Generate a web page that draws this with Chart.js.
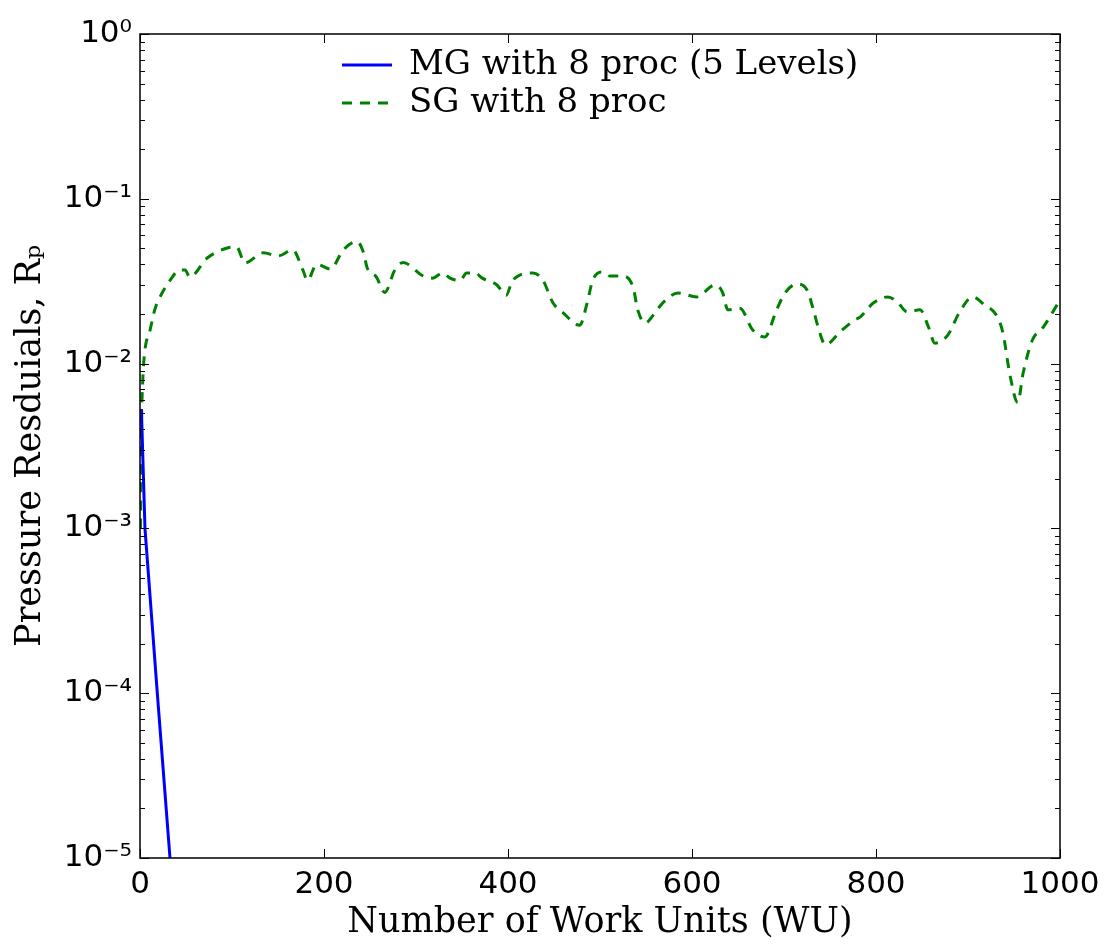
<!DOCTYPE html>
<html>
<head>
<meta charset="utf-8">
<script src="https://cdn.jsdelivr.net/npm/chart.js@4/dist/chart.umd.min.js"></script>
<style>
  html, body { margin: 0; padding: 0; background: #fff; }
  #wrap { width: 1113px; height: 946px; position: relative; }
</style>
</head>
<body>
<div id="wrap"><canvas id="myChart" width="1113" height="946"></canvas></div>
<script>
// multigrid run, 8 procs
const mgWU = [1.5, 5.4, 18.8, 32.6, 40];
const mgRes = [5.3e-3, 1e-3, 1e-4, 1e-5, 1.6e-6];

// single grid run, 8 procs
const sgWU = [0.5, 1.5, 3, 5, 11, 16, 24, 33, 43, 49, 54, 73, 95, 105, 114, 134, 150, 166, 177, 182,
  192, 207, 221, 236, 243, 247, 257, 266, 277, 286, 308, 318, 329, 337, 348, 355, 364, 372, 388, 398,
  405, 427, 438, 449, 460, 478, 486, 492, 502, 511, 524, 536, 541, 549, 558, 568, 585, 605, 625, 633,
  639, 652, 666, 679, 692, 701, 714, 725, 732, 737, 745, 761, 777, 783, 797, 813, 823, 834, 848, 857,
  864, 878, 891, 905, 918, 932, 938, 946, 954, 960, 970, 982, 998];
const sgRes = [0.001, 0.004, 0.0079, 0.0116, 0.016, 0.0212, 0.0268, 0.0322, 0.037, 0.037, 0.0335, 0.0437, 0.0503, 0.051, 0.0408, 0.047, 0.045, 0.049, 0.037, 0.032,
  0.040, 0.0375, 0.049, 0.055, 0.047, 0.038, 0.0335, 0.027, 0.037, 0.041, 0.034, 0.033, 0.0355, 0.033, 0.032, 0.0355, 0.0355, 0.033, 0.030, 0.026,
  0.032, 0.0355, 0.032, 0.0233, 0.0203, 0.0171, 0.0233, 0.032, 0.036, 0.034, 0.034, 0.029, 0.0212, 0.0176, 0.0197, 0.0233, 0.0268, 0.0254, 0.030, 0.0272,
  0.0212, 0.0217, 0.016, 0.0145, 0.0212, 0.0268, 0.0304, 0.028, 0.0212, 0.0167, 0.013, 0.0156, 0.0184, 0.0192, 0.0233, 0.0254, 0.0237, 0.0206, 0.0212, 0.0167,
  0.0133, 0.0149, 0.0206, 0.0254, 0.0227, 0.0192, 0.0153, 0.0083, 0.0058, 0.0088, 0.0139, 0.0167, 0.0233];

const xTicks = [0, 200, 400, 600, 800, 1000];
const yDecades = [-5, -4, -3, -2, -1, 0];

const supMap = { '-': '\u207B', '0': '\u2070', '1': '\u00B9', '2': '\u00B2', '3': '\u00B3', '4': '\u2074', '5': '\u2075' };
const toSup = n => String(n).split('').map(c => supMap[c]).join('');

Chart.defaults.color = '#000';
Chart.defaults.font.family = 'DejaVu Sans';

// frame + inward ticks on all four sides (matlab style)
const frameTicks = {
  id: 'frameTicks',
  afterDatasetsDraw(chart) {
    const { ctx, chartArea: a, scales: { x, y } } = chart;
    ctx.save();
    ctx.strokeStyle = '#000';
    ctx.lineWidth = 1;
    ctx.beginPath();
    xTicks.forEach(v => {
      const px = Math.round(x.getPixelForValue(v)) + 0.5;
      ctx.moveTo(px, a.bottom); ctx.lineTo(px, a.bottom - 9);
      ctx.moveTo(px, a.top); ctx.lineTo(px, a.top + 9);
    });
    yDecades.forEach(d => {
      const py = Math.round(y.getPixelForValue(Math.pow(10, d))) + 0.5;
      ctx.moveTo(a.left, py); ctx.lineTo(a.left + 9, py);
      ctx.moveTo(a.right, py); ctx.lineTo(a.right - 9, py);
      if (d < 0) {
        for (let k = 2; k <= 9; k++) {
          const pm = Math.round(y.getPixelForValue(k * Math.pow(10, d))) + 0.5;
          ctx.moveTo(a.left, pm); ctx.lineTo(a.left + 5, pm);
          ctx.moveTo(a.right, pm); ctx.lineTo(a.right - 5, pm);
        }
      }
    });
    ctx.stroke();
    ctx.lineWidth = 1.5;
    ctx.strokeRect(a.left, a.top, a.right - a.left, a.bottom - a.top);
    ctx.restore();
  },
  afterLayout(chart) {
    // put the legend block near the top centre of the plot
    if (chart.legend) {
      chart.legend.left = 338;
      chart.legend.top = 44;
    }
  }
};

const ctx = document.getElementById('myChart').getContext('2d');
const myChart = new Chart(ctx, {
  type: 'line',
  data: {
    datasets: [{
      label: 'MG with 8 proc (5 Levels)',
      data: mgWU.map((x, i) => ({ x, y: mgRes[i] })),
      borderColor: '#0000ff',
      backgroundColor: '#0000ff',
      borderWidth: 3,
      pointRadius: 0,
      tension: 0
    }, {
      label: 'SG with 8 proc',
      data: sgWU.map((x, i) => ({ x, y: sgRes[i] })),
      borderColor: '#008000',
      backgroundColor: '#008000',
      borderWidth: 3,
      borderDash: [10, 8],
      pointRadius: 0,
      cubicInterpolationMode: 'monotone'
    }]
  },
  options: {
    responsive: false,
    animation: false,
    layout: { padding: { top: 34, right: 53, left: 0, bottom: 0 } },
    plugins: {
      legend: {
        position: 'chartArea',
        align: 'start',
        labels: {
          boxWidth: 50,
          boxHeight: 0,
          padding: 4,
          font: { family: 'DejaVu Serif', size: 34 }
        }
      },
      tooltip: { enabled: false }
    },
    scales: {
      x: {
        type: 'linear',
        min: 0,
        max: 1000,
        grid: { display: false, drawTicks: false },
        border: { display: false },
        ticks: {
          stepSize: 200,
          padding: 8,
          font: { size: 31 },
          callback: v => String(v)
        },
        title: {
          display: true,
          text: 'Number of Work Units (WU)',
          font: { family: 'DejaVu Serif', size: 35 },
          padding: { top: 0, bottom: 2 }
        },
        afterFit: s => { s.height = 88; }
      },
      y: {
        type: 'logarithmic',
        min: 1e-5,
        max: 1,
        grid: { display: false, drawTicks: false },
        border: { display: false },
        ticks: {
          autoSkip: false,
          padding: 8,
          font: { size: 31 },
          callback: v => {
            const e = Math.log10(v);
            return Math.abs(e - Math.round(e)) < 1e-9 ? '10' + toSup(Math.round(e)) : '';
          }
        },
        title: {
          display: true,
          text: 'Pressure Resduials, R\u209A',
          font: { family: 'DejaVu Serif', size: 35 },
          padding: { top: 10, bottom: 0 }
        },
        afterFit: s => { s.width = 140; }
      }
    }
  },
  plugins: [frameTicks]
});
</script>
</body>
</html>
